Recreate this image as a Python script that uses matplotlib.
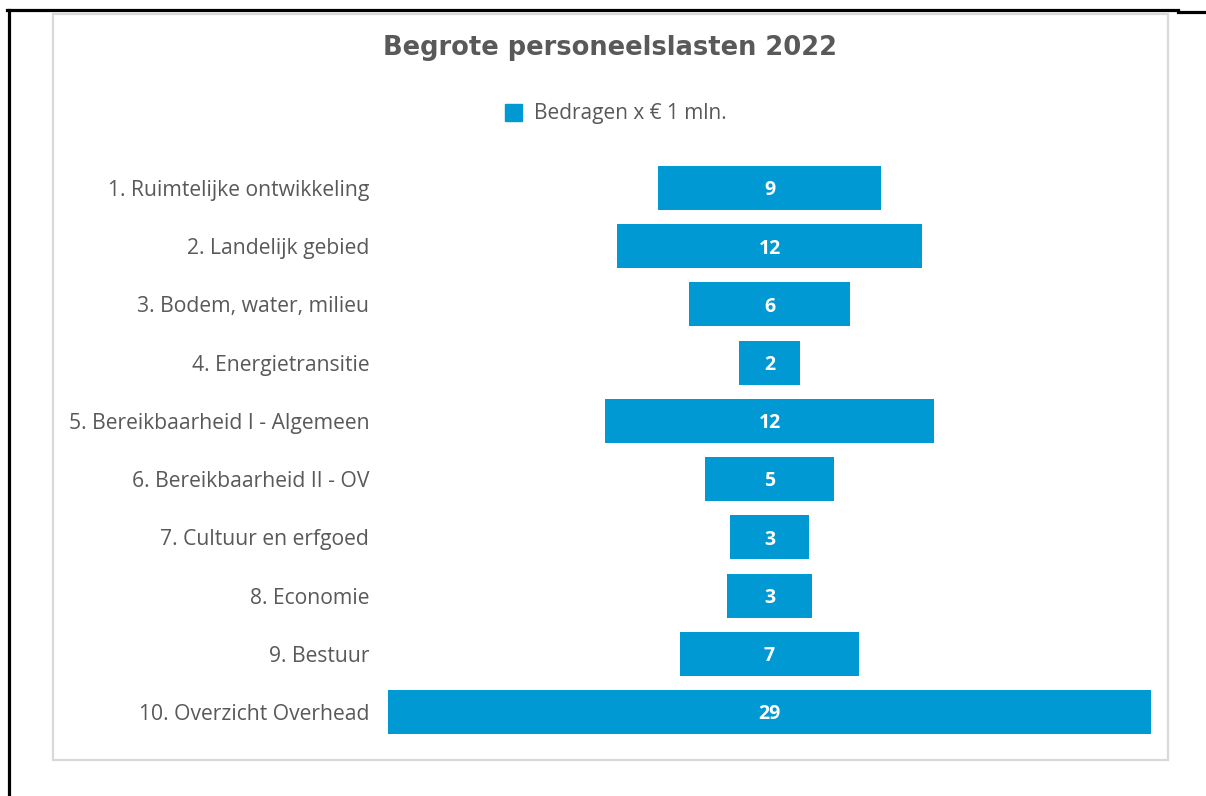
import matplotlib.pyplot as plt
from matplotlib.lines import Line2D
from matplotlib.patches import Rectangle

# categorieën en bedragen (x € 1 mln.)
categorieen = [
    "1. Ruimtelijke ontwikkeling",
    "2. Landelijk gebied",
    "3. Bodem, water, milieu",
    "4. Energietransitie",
    "5. Bereikbaarheid I - Algemeen",
    "6. Bereikbaarheid II - OV",
    "7. Cultuur en erfgoed",
    "8. Economie",
    "9. Bestuur",
    "10. Overzicht Overhead",
]
bedragen = [8.5, 11.6, 6.1, 2.3, 12.5, 4.9, 3.0, 3.2, 6.8, 29.0]
labels = ["9", "12", "6", "2", "12", "5", "3", "3", "7", "29"]

blauw = "#0099D4"
grijs = "#595959"

fig = plt.figure(figsize=(12.06, 7.96), dpi=100)
fig.patch.set_facecolor("white")

# lichtgrijze kader rond de grafiek
fig.patches.append(Rectangle((53 / 1206, 1 - 760 / 796), (1168 - 53) / 1206, (760 - 14) / 796,
                             transform=fig.transFigure, fill=False, edgecolor="#d9d9d9", lw=1.6))
# zwarte randen
fig.lines.append(Line2D([8.5 / 1206, 8.5 / 1206], [0, 1 - 10 / 796], transform=fig.transFigure,
                        color="black", lw=2.3))
fig.lines.append(Line2D([7 / 1206, 1178 / 1206], [1 - 10 / 796, 1 - 10 / 796], transform=fig.transFigure,
                        color="black", lw=2.3))
fig.lines.append(Line2D([1178 / 1206, 1], [1 - 11.5 / 796, 1 - 11.5 / 796], transform=fig.transFigure,
                        color="black", lw=2.3))

ax = fig.add_axes([388 / 1206, 0.069, 763 / 1206, 0.7314])
y = list(range(len(categorieen)))
links = [-b / 2 for b in bedragen]
ax.barh(y, bedragen, left=links, height=0.755, color=blauw)
for yi, lab in zip(y, labels):
    ax.text(0, yi + 0.04, lab, ha="center", va="center", color="white", fontsize=14,
            fontweight="bold", family="Open Sans")

ax.set_xlim(-14.5, 14.5)
ax.set_ylim(len(categorieen) - 0.5, -0.5)
ax.set_yticks(y)
ax.set_yticklabels(categorieen, fontsize=15.2, color=grijs, family="Open Sans")
ax.tick_params(axis="y", length=0, pad=13.5)
ax.set_xticks([])
for s in ax.spines.values():
    s.set_visible(False)

fig.text(610 / 1206, 1 - 48 / 796, "Begrote personeelslasten 2022", ha="center", va="center",
         fontsize=18.5, fontweight="bold", color=grijs, family="DejaVu Sans")

# legenda
fig.patches.append(Rectangle((505 / 1206, 1 - 121 / 796), 17 / 1206, 17 / 796,
                             transform=fig.transFigure, color=blauw))
fig.text(534 / 1206, 1 - 113 / 796, "Bedragen x € 1 mln.", ha="left", va="center",
         fontsize=15, color=grijs, family="Open Sans")

fig.savefig("out.png", dpi=100)
